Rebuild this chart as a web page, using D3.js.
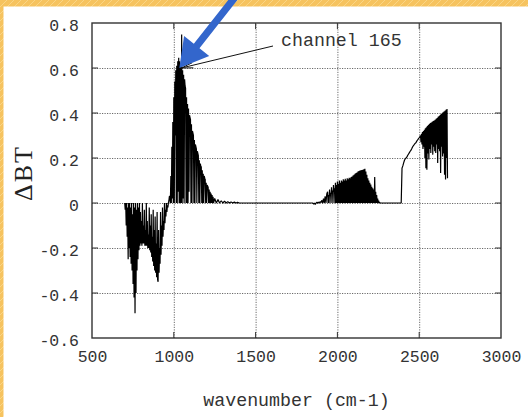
<!DOCTYPE html>
<html>
<head>
<meta charset="utf-8">
<script src="https://cdn.jsdelivr.net/npm/d3@7"></script>
<style>
  html, body { margin: 0; padding: 0; background: #fff; }
  svg { display: block; }
</style>
</head>
<body>
<svg id="chart" width="528" height="417"></svg>
<script>
// ΔBT per channel, grouped into bands; each band lies on its own evenly spaced wavenumber grid (cm-1)
const bandStarts = [700, 976, 1250, 1850, 1940, 2385, 2508];
const bandSteps  = [3, 3, 10, 5, 3, 5, 3];

// 700–973 cm-1
const bandLW = [
  0, -0.03, 0, -0.1, 0, -0.15, -0.02, -0.25, 0, -0.2,
  0, -0.24, -0.02, -0.27, 0, -0.3, -0.05, -0.36, 0, -0.42,
  -0.02, -0.49, 0, -0.4, -0.03, -0.3, 0, -0.25, -0.02, -0.21,
  0, -0.19, -0.04, -0.18, -0.08, -0.19, 0, -0.18, -0.1, -0.18,
  -0.03, -0.19, -0.12, -0.19, 0, -0.19, -0.08, -0.2, -0.14, -0.2,
  -0.02, -0.21, -0.1, -0.22, -0.05, -0.24, -0.15, -0.26, -0.03, -0.28,
  -0.12, -0.3, -0.06, -0.31, -0.18, -0.33, -0.04, -0.34, -0.35, -0.12,
  -0.31, -0.2, -0.27, -0.04, -0.23, -0.1, -0.19, -0.02, -0.15, -0.08,
  -0.12, 0, -0.09, -0.03, -0.06, 0, -0.04, -0.01, -0.02, 0,
  0.01, 0.03
];

// 976–1243 cm-1
const bandO3 = [
  0.03, 0, 0.12, 0, 0.25, 0.02, 0.36, 0, 0.47, 0,
  0.54, 0.3, 0.59, 0, 0.61, 0, 0.63, 0.05, 0.645, 0,
  0.63, 0, 0.62, 0, 0.749, 0, 0.59, 0.02, 0.57, 0,
  0.55, 0.52, 0.51, 0, 0.47, 0, 0.44, 0, 0.42, 0.05,
  0.39, 0.38, 0.37, 0, 0.35, 0, 0.32, 0.31, 0.3, 0,
  0.28, 0, 0.26, 0.25, 0.24, 0, 0.23, 0.22, 0.21, 0,
  0.19, 0, 0.175, 0.165, 0.16, 0, 0.145, 0, 0.13, 0,
  0.12, 0.11, 0.105, 0, 0.09, 0, 0.08, 0.075, 0.07, 0,
  0.06, 0, 0.05, 0, 0.042, 0, 0.035, 0, 0.028, 0
];

// 1250–1400 cm-1
const bandTail = [
  0.02, 0, 0.015, 0, 0.01, 0, 0.008, 0, 0.006, 0,
  0.005, 0, 0.004, 0, 0.003, 0
];

// 1850–1935 cm-1
const bandMidLow = [
  0, -0.005, 0, -0.006, 0, 0.003, 0, 0.004, 0, 0.006,
  0.002, 0.012, 0, 0.02, 0, 0.03, 0, 0.04
];

// 1940–2261 cm-1
const bandMid = [
  0.05, 0, 0.035, 0, 0.06, 0.03, 0.045, 0, 0.07, 0.04,
  0.055, 0, 0.08, 0.05, 0.065, 0, 0.09, 0, 0.08, 0,
  0.095, 0, 0.085, 0, 0.1, 0, 0.09, 0, 0.1, 0,
  0.095, 0, 0.105, 0, 0.1, 0, 0.108, 0, 0.1, 0,
  0.11, 0, 0.105, 0, 0.112, 0, 0.11, 0, 0.116, 0,
  0.118, 0, 0.122, 0, 0.126, 0, 0.13, 0, 0.133, 0,
  0.136, 0, 0.14, 0, 0.142, 0, 0.144, 0, 0.146, 0,
  0.147, 0, 0.148, 0, 0.15, 0, 0.152, 0, 0.14, 0,
  0.125, 0, 0.11, 0, 0.1, 0, 0.09, 0, 0.082, 0,
  0.072, 0, 0.065, 0, 0.06, 0, 0.115, 0, 0.05, 0,
  0.035, 0, 0.02, 0, 0.01, 0, 0.003, 0
];

// 2385–2505 cm-1
const bandSWEdge = [
  0, 0, 0.155, 0.165, 0.178, 0.19, 0.197, 0.2, 0.205, 0.212,
  0.218, 0.224, 0.23, 0.235, 0.242, 0.25, 0.255, 0.26, 0.265, 0.268,
  0.275, 0.28, 0.285, 0.29, 0.295
];

// 2508–2673 cm-1
const bandSW = [
  0.3, 0.27, 0.308, 0.26, 0.315, 0.24, 0.32, 0.25, 0.326, 0.2,
  0.332, 0.155, 0.337, 0.148, 0.342, 0.22, 0.347, 0.193, 0.351, 0.24,
  0.355, 0.222, 0.358, 0.26, 0.361, 0.215, 0.364, 0.25, 0.367, 0.23,
  0.37, 0.222, 0.374, 0.26, 0.378, 0.178, 0.383, 0.24, 0.387, 0.23,
  0.391, 0.133, 0.395, 0.25, 0.399, 0.207, 0.403, 0.22, 0.407, 0.126,
  0.41, 0.104, 0.414, 0.2, 0.418, 0.11
];

const bandValues = [bandLW, bandO3, bandTail, bandMidLow, bandMid, bandSWEdge, bandSW];

const xTicks = [500, 1000, 1500, 2000, 2500, 3000];
const yTicks = [-0.6, -0.4, -0.2, 0, 0.2, 0.4, 0.6, 0.8];
const yTickLabels = ["-0.6", "-0.4", "-0.2", "0", "0.2", "0.4", "0.6", "0.8"];

const xTitle = "wavenumber (cm-1)";
const yTitle = "ΔBT";
const noteText = "channel 165";
const noteChannel = { wn: 1040, v: 0.6 };

// ---- drawing ----
const svg = d3.select("#chart");
const W = 528, H = 417;
const M = { left: 92, right: 501, top: 23, bottom: 338 };

// page background with orange hatched border
const defs = svg.append("defs");
const pat = defs.append("pattern")
  .attr("id", "hatch").attr("patternUnits", "userSpaceOnUse")
  .attr("width", 7).attr("height", 7);
pat.append("rect").attr("width", 7).attr("height", 7).attr("fill", "#f6c35f");
pat.append("path").attr("d", "M0,7 L7,0 M-1,1 L1,-1 M6,8 L8,6")
  .attr("stroke", "#fbd98f").attr("stroke-width", 0.8);

svg.append("rect").attr("width", W).attr("height", H).attr("fill", "url(#hatch)");
svg.append("rect").attr("x", 3.5).attr("y", 6.5).attr("width", W - 3.5).attr("height", H - 6.5)
  .attr("fill", "#ffffff");

const x = d3.scaleLinear().domain([500, 3000]).range([M.left, M.right]);
const y = d3.scaleLinear().domain([-0.6, 0.8]).range([M.bottom, M.top]);

// dotted grid
const grid = svg.append("g").attr("class", "grid");
grid.append("g")
  .attr("transform", `translate(0,${M.bottom})`)
  .call(d3.axisBottom(x).tickValues(xTicks.slice(1, -1)).tickSize(-(M.bottom - M.top)).tickFormat(""))
  .call(g => g.select(".domain").remove());
grid.append("g")
  .attr("transform", `translate(${M.left},0)`)
  .call(d3.axisLeft(y).tickValues(yTicks.slice(1, -1)).tickSize(-(M.right - M.left)).tickFormat(""))
  .call(g => g.select(".domain").remove());
grid.selectAll("line")
  .attr("stroke", "#6a6a6a").attr("stroke-width", 1).attr("stroke-dasharray", "1.2,1.3");

// inward ticks on all four sides
const tickLen = 6;
const ticks = svg.append("g").attr("stroke", "#333").attr("stroke-width", 1);
xTicks.slice(1, -1).forEach(t => {
  ticks.append("line").attr("x1", x(t)).attr("x2", x(t)).attr("y1", M.bottom).attr("y2", M.bottom - tickLen);
  ticks.append("line").attr("x1", x(t)).attr("x2", x(t)).attr("y1", M.top).attr("y2", M.top + tickLen);
});
yTicks.slice(1, -1).forEach(t => {
  ticks.append("line").attr("y1", y(t)).attr("y2", y(t)).attr("x1", M.left).attr("x2", M.left + tickLen);
  ticks.append("line").attr("y1", y(t)).attr("y2", y(t)).attr("x1", M.right).attr("x2", M.right - tickLen);
});

// spectrum, one continuous line through all channels
const points = [];
bandValues.forEach((vals, b) => {
  vals.forEach((v, i) => points.push({ wn: bandStarts[b] + i * bandSteps[b], v }));
});
const line = d3.line().x(d => x(d.wn)).y(d => y(d.v));
svg.append("path").datum(points)
  .attr("d", line)
  .attr("fill", "none").attr("stroke", "#000").attr("stroke-width", 1.2)
  .attr("stroke-linejoin", "bevel");

// frame
svg.append("rect")
  .attr("x", M.left).attr("y", M.top)
  .attr("width", M.right - M.left).attr("height", M.bottom - M.top)
  .attr("fill", "none").attr("stroke", "#333").attr("stroke-width", 1.4);

// tick labels
const mono = "'Liberation Mono', 'Courier New', monospace";
const xAxis = svg.append("g")
  .attr("transform", `translate(0,${M.bottom})`)
  .call(d3.axisBottom(x).tickValues(xTicks).tickSize(0).tickPadding(12).tickFormat(d3.format("d")));
xAxis.select(".domain").remove();
xAxis.selectAll("text")
  .attr("font-family", mono).attr("font-size", 16.5).attr("fill", "#333");

const yAxis = svg.append("g")
  .attr("transform", `translate(${M.left},0)`)
  .call(d3.axisLeft(y).tickValues(yTicks).tickSize(0).tickPadding(13)
    .tickFormat((d, i) => yTickLabels[i]));
yAxis.select(".domain").remove();
yAxis.selectAll("text")
  .attr("font-family", mono).attr("font-size", 16.5).attr("fill", "#333").attr("dy", "0.45em");

// axis titles
svg.append("text")
  .attr("x", (M.left + M.right) / 2).attr("y", 406)
  .attr("text-anchor", "middle")
  .attr("font-family", mono).attr("font-size", 18.3).attr("fill", "#333")
  .text(xTitle);

svg.append("text")
  .attr("transform", "translate(32,173) rotate(-90)")
  .attr("text-anchor", "middle")
  .attr("font-family", "'Liberation Serif', 'Times New Roman', serif")
  .attr("font-size", 26).attr("letter-spacing", 2).attr("fill", "#222")
  .text(yTitle);

// annotation for channel 165
const tipX = x(noteChannel.wn), tipY = y(noteChannel.v);
const labelX = 281, labelY = 46;
svg.append("line")
  .attr("x1", labelX - 8).attr("y1", labelY)
  .attr("x2", tipX + 1).attr("y2", tipY)
  .attr("stroke", "#111").attr("stroke-width", 1);
const ang = Math.atan2(labelY - tipY, labelX - 8 - tipX);
const headLen = 12, headSpread = 0.22;
svg.append("path")
  .attr("d", `M${tipX + 1 + headLen * Math.cos(ang + headSpread)},${tipY + headLen * Math.sin(ang + headSpread)}
              L${tipX + 1},${tipY}
              L${tipX + 1 + headLen * Math.cos(ang - headSpread)},${tipY + headLen * Math.sin(ang - headSpread)}`)
  .attr("fill", "none").attr("stroke", "#111").attr("stroke-width", 1);
svg.append("text")
  .attr("x", labelX).attr("y", labelY)
  .attr("font-family", mono).attr("font-size", 18.3).attr("fill", "#333")
  .text(noteText);

// blue pointer arrow onto channel 165
const aTip = [tipX - 1, tipY];
const aTail = [236, -4];
const dx = aTip[0] - aTail[0], dy = aTip[1] - aTail[1];
const len = Math.hypot(dx, dy);
const ux = dx / len, uy = dy / len, px = -uy, py = ux;
const headL = 28, headW = 16, shaftW = 3.6;
const bx = aTip[0] - ux * headL, by = aTip[1] - uy * headL;
const arrowPts = [
  [aTail[0] + px * shaftW, aTail[1] + py * shaftW],
  [bx + px * shaftW, by + py * shaftW],
  [bx + px * headW, by + py * headW],
  aTip,
  [bx - px * headW, by - py * headW],
  [bx - px * shaftW, by - py * shaftW],
  [aTail[0] - px * shaftW, aTail[1] - py * shaftW]
];
svg.append("polygon")
  .attr("points", arrowPts.map(p => p.join(",")).join(" "))
  .attr("fill", "#3366cc");
</script>
</body>
</html>
